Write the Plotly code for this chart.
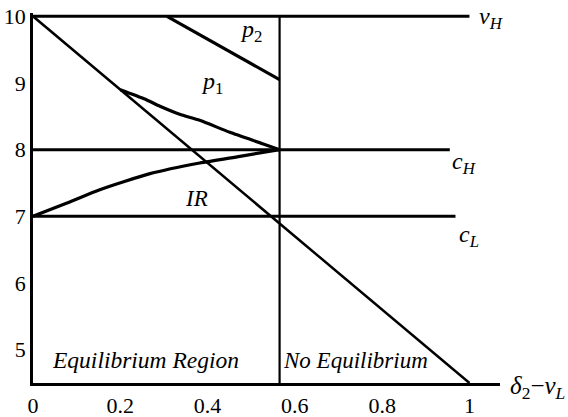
import plotly.graph_objects as go

# Price bounds and costs (horizontal reference levels)
v_H = 10.0
c_H = 8.0
c_L = 7.0

# Boundary of the equilibrium region on the horizontal axis
x_boundary = 0.565

# Diagonal: v_H - 5.5 * (delta_2 - v_L)
diag_x = [0.0, 1.0]
diag_y = [10.0, 4.5]

# p2 schedule
p2_x = [0.307, 0.565]
p2_y = [10.0, 9.05]

# p1 schedule
p1_x = [0.20, 0.256, 0.291, 0.336, 0.382, 0.451, 0.526, 0.565]
p1_y = [8.90, 8.76, 8.65, 8.53, 8.44, 8.26, 8.09, 8.00]

# Individual rationality constraint
ir_x = [0.0, 0.078, 0.153, 0.268, 0.382, 0.474, 0.565]
ir_y = [7.00, 7.20, 7.40, 7.64, 7.80, 7.90, 8.00]

# Horizontal level lines: (level, right end)
levels = [(v_H, 1.0), (c_H, 0.955), (c_L, 0.968)]

x_ticks = [0, 0.2, 0.4, 0.6, 0.8, 1]
x_tick_text = ["0", "0.2", "0.4", "0.6", "0.8", "1"]
y_ticks = [5, 6, 7, 8, 9, 10]
y_tick_text = ["5", "6", "7", "8", "9", "10"]

SERIF = "Liberation Serif"
BLACK = "#000000"

fig = go.Figure()

for lvl, x_end in levels:
    fig.add_trace(go.Scatter(x=[0, x_end], y=[lvl, lvl], mode="lines",
                             line=dict(color=BLACK, width=3)))

fig.add_trace(go.Scatter(x=[x_boundary, x_boundary], y=[4.5, 10.0], mode="lines",
                         line=dict(color=BLACK, width=2.2)))
fig.add_trace(go.Scatter(x=diag_x, y=diag_y, mode="lines",
                         line=dict(color=BLACK, width=2.5)))
fig.add_trace(go.Scatter(x=p2_x, y=p2_y, mode="lines",
                         line=dict(color=BLACK, width=3.2)))
fig.add_trace(go.Scatter(x=p1_x, y=p1_y, mode="lines",
                         line=dict(color=BLACK, width=3.2, shape="spline", smoothing=0.6)))
fig.add_trace(go.Scatter(x=ir_x, y=ir_y, mode="lines",
                         line=dict(color=BLACK, width=3.2, shape="spline", smoothing=0.6)))

def label(text, x, y, size=24, xanchor="center", ref="data"):
    xr, yr = ("x", "y") if ref == "data" else ("paper", "paper")
    fig.add_annotation(x=x, y=y, xref=xr, yref=yr, text=text, showarrow=False,
                       xanchor=xanchor, yanchor="middle",
                       font=dict(family=SERIF, size=size, color=BLACK))

label("<i>p</i><sub>2</sub>", 0.50, 9.78)
label("<i>p</i><sub>1</sub>", 0.41, 9.0)
label("<i>IR</i>", 0.374, 7.27, size=23)
label("<i>v</i><sub><i>H</i></sub>", 1.017, 9.97, xanchor="left")
label("<i>c</i><sub><i>H</i></sub>", 0.955, 7.80, xanchor="left")
label("<i>c</i><sub><i>L</i></sub>", 0.972, 6.70, xanchor="left")
label("<i>Equilibrium Region</i>", 0.257, 4.845, size=23.5)
label("<i>No Equilibrium</i>", 0.738, 4.845, size=23)
# axis title sits to the right of the plotting area
label("<i>δ</i><sub>2</sub>−<i>v</i><sub><i>L</i></sub>", 1.017, -0.012, size=25,
      xanchor="left", ref="paper")

fig.update_layout(
    width=568, height=417,
    margin=dict(l=33, r=68, t=13, b=34, autoexpand=False),
    paper_bgcolor="white", plot_bgcolor="white",
    showlegend=False,
    font=dict(family=SERIF, size=22, color=BLACK),
    xaxis=dict(range=[0, 1.07], tickvals=x_ticks, ticktext=x_tick_text,
               showgrid=False, zeroline=False, showline=True, linecolor=BLACK,
               linewidth=3, ticks="", ticklabelstandoff=1, automargin=False,
               tickfont=dict(family=SERIF, size=22, color=BLACK)),
    yaxis=dict(range=[4.5, 10.05], tickvals=y_ticks, ticktext=y_tick_text,
               showgrid=False, zeroline=False, showline=True, linecolor=BLACK,
               linewidth=2.5, ticks="", ticklabelstandoff=0, automargin=False,
               tickfont=dict(family=SERIF, size=22, color=BLACK)),
)

fig.write_html("out.html")
